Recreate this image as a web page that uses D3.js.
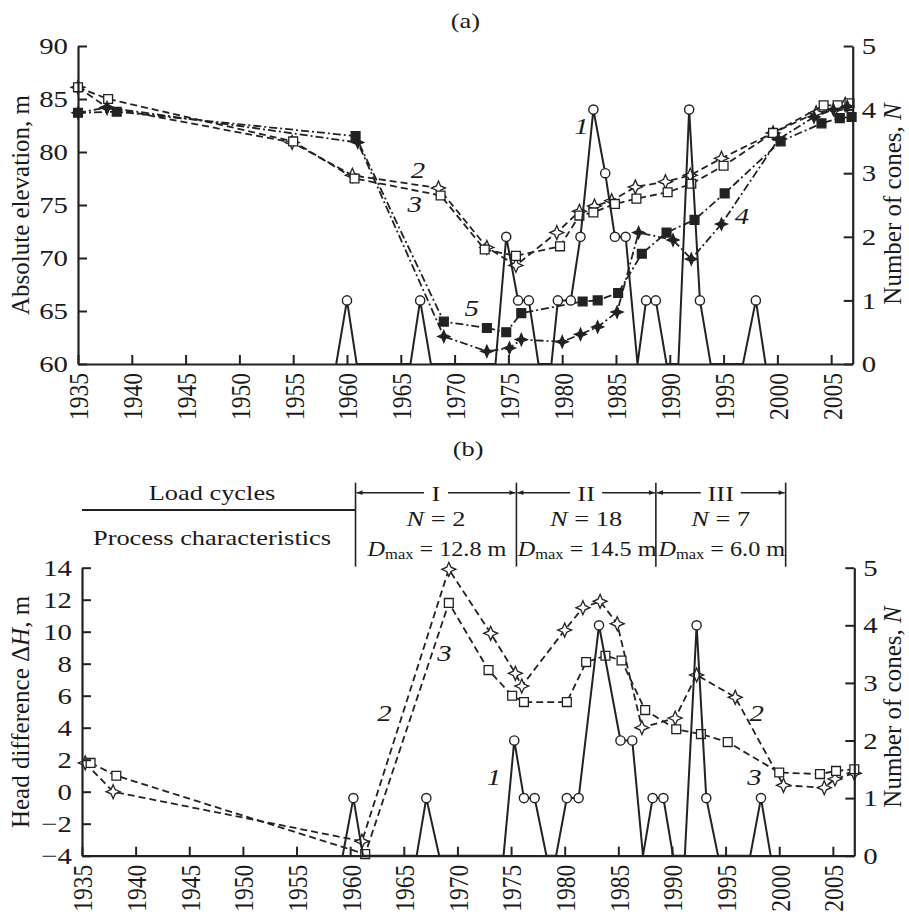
<!DOCTYPE html>
<html>
<head>
<meta charset="utf-8">
<script src="https://cdn.jsdelivr.net/npm/d3@7"></script>
<style>
  html, body { margin: 0; padding: 0; background: #fff; }
  svg text { font-family: "Liberation Serif", "Times New Roman", serif; fill: #1a1a1a; }
</style>
</head>
<body>
<svg id="chart" width="909" height="916"></svg>
<script>
// ---- data ----
const yearTicks = d3.range(1935, 2006, 5);

// (a) number of cones (curve 1)
const topConeYears = [1959.0, 1960.0, 1960.9, 1965.9, 1966.8, 1967.8, 1973.8, 1974.8, 1975.9, 1976.9, 1977.8, 1979.0, 1979.6, 1980.8, 1981.7, 1982.9, 1984.0, 1984.9, 1985.9, 1987.0, 1987.8, 1988.7, 1989.7, 1990.8, 1991.8, 1992.8, 1993.8, 1996.8, 1998.0, 1998.9];
const topConeN = [0, 1, 0, 0, 1, 0, 0, 2, 1, 1, 0, 0, 1, 1, 2, 4, 3, 2, 2, 0, 1, 1, 0, 0, 4, 1, 0, 0, 1, 0];
// (a) absolute elevation, curves 2..5
const topS2Years = [1935, 1937.7, 1954.9, 1960.5, 1968.5, 1973.0, 1975.7, 1979.5, 1981.6, 1983.0, 1984.6, 1986.8, 1989.6, 1991.9, 1994.8, 1999.6, 2003.6, 2005.35, 2006.3];
const topS2Elev = [86.1, 84.2, 80.9, 77.8, 76.6, 71.0, 69.3, 72.4, 74.4, 74.9, 75.4, 76.7, 77.2, 77.8, 79.4, 81.8, 83.7, 84.0, 84.5];
const topS3Years = [1935, 1937.8, 1955, 1960.7, 1968.7, 1972.8, 1975.7, 1979.8, 1981.6, 1982.9, 1984.9, 1986.9, 1989.8, 1992.0, 1995.0, 1999.6, 2004.3, 2005.6, 2006.7];
const topS3Elev = [86.1, 85.0, 81.0, 77.5, 75.9, 70.8, 70.2, 71.1, 74.0, 74.3, 75.1, 75.6, 76.2, 77.0, 78.7, 81.8, 84.4, 84.4, 84.6];
const topS4Years = [1935, 1937.7, 1961.0, 1969.0, 1973.0, 1975.1, 1976.2, 1980.0, 1981.7, 1983.3, 1985.1, 1987.1, 1990.3, 1992.0, 1994.8, 2000.1, 2003.4, 2005.2, 2006.5];
const topS4Elev = [83.7, 84.2, 80.9, 62.6, 61.2, 61.5, 62.3, 62.1, 62.8, 63.5, 64.9, 72.4, 71.7, 69.9, 73.2, 81.2, 83.3, 84.0, 84.3];
const topS5Years = [1935, 1938.6, 1960.8, 1969.0, 1973.0, 1974.8, 1976.2, 1981.9, 1983.3, 1985.2, 1987.4, 1989.7, 1992.3, 1995.1, 2000.3, 2004.1, 2005.8, 2006.9];
const topS5Elev = [83.7, 83.8, 81.5, 64.0, 63.4, 63.0, 64.8, 65.9, 66.0, 66.7, 70.4, 72.4, 73.6, 76.1, 81.0, 82.7, 83.2, 83.3];

// (b) number of cones (curve 1)
const botConeYears = [1959.3, 1960.3, 1961.2, 1966.2, 1967.1, 1968.3, 1974.3, 1975.3, 1976.2, 1977.2, 1978.3, 1979.2, 1980.2, 1981.3, 1983.2, 1985.2, 1986.3, 1987.3, 1988.2, 1989.2, 1990.1, 1991.2, 1992.3, 1993.2, 1994.3, 1997.3, 1998.3, 1999.2];
const botConeN = [0, 1, 0, 0, 1, 0, 0, 2, 1, 1, 0, 0, 1, 1, 4, 2, 2, 0, 1, 1, 0, 0, 4, 1, 0, 0, 1, 0];
// (b) head difference, curves 2 and 3
const botS2Years = [1935.3, 1937.9, 1961.1, 1969.2, 1973.1, 1975.4, 1976.0, 1980.0, 1981.7, 1983.3, 1984.9, 1987.2, 1990.3, 1992.3, 1995.9, 2000.4, 2004.2, 2005.2, 2007.0];
const botS2Head = [1.8, 0, -3.1, 13.9, 9.9, 7.4, 6.6, 10.1, 11.5, 11.9, 10.5, 4.0, 4.6, 7.3, 5.9, 0.4, 0.25, 0.8, 1.15];
const botS3Years = [1935.8, 1938.2, 1961.4, 1969.2, 1972.9, 1975.1, 1976.2, 1980.2, 1982.0, 1983.8, 1985.3, 1987.5, 1990.4, 1992.7, 1995.2, 2000.0, 2003.8, 2005.3, 2007.0];
const botS3Head = [1.8, 1.0, -3.9, 11.8, 7.6, 6.0, 5.6, 5.6, 8.1, 8.5, 8.2, 5.1, 3.9, 3.6, 3.1, 1.2, 1.1, 1.3, 1.4];

// load cycle table
const cycleBounds = [1960.5, 1975.5, 1988.5, 2000.6];
const cycleNames = ['I', 'II', 'III'];
const cycleN = [2, 18, 7];
const cycleDmax = ['12.8', '14.5', '6.0'];

// ---- drawing ----
const INK = '#222';
const SX = 1.2; // the source figure's lettering is stretched sideways
const svg = d3.select('#chart');

const zip = (xs, ys) => xs.map((x, i) => ({ x, y: ys[i] }));

// text inside a group so it can be stretched and rotated
const label = (parent, x, y, rot = 0, sx = SX) =>
  parent.append('g')
    .attr('transform', `translate(${x},${y}) scale(${sx},1) rotate(${rot})`)
    .append('text')
    .attr('text-anchor', 'middle')
    .attr('dominant-baseline', 'central');

// four pointed star
const starPath = (r) => {
  const i = r * 0.3;
  return `M0,${-r}L${i},${-i}L${r},0L${i},${i}L0,${r}L${-i},${i}L${-r},0L${-i},${-i}Z`;
};
const squarePath = d3.symbol(d3.symbolSquare, 78)();

const dashed = '7,4';
const dashDot = '8,3,2,3';

function drawSeries(g, pts, x, y, opts) {
  const line = d3.line().x(d => x(d.x)).y(d => y(d.y));
  g.append('path')
    .datum(pts)
    .attr('d', line)
    .attr('fill', 'none')
    .attr('stroke', INK)
    .attr('stroke-width', opts.width || 1.8)
    .attr('stroke-dasharray', opts.dash || null);

  const shown = opts.skipZero ? pts.filter(d => d.y > 0) : pts;
  const m = g.selectAll(null).data(shown).enter();
  if (opts.marker === 'circle') {
    m.append('circle')
      .attr('cx', d => x(d.x)).attr('cy', d => y(d.y)).attr('r', 4.6)
      .attr('fill', '#fff').attr('stroke', INK).attr('stroke-width', 1.4);
  } else {
    const d = opts.marker === 'square' ? squarePath : starPath(opts.filled ? 6 : 7);
    m.append('path')
      .attr('transform', p => `translate(${x(p.x)},${y(p.y)})`)
      .attr('d', d)
      .attr('fill', opts.filled ? INK : '#fff')
      .attr('stroke', INK)
      .attr('stroke-width', 1.3);
  }
}

function styleAxis(g) {
  g.selectAll('path.domain').attr('stroke', INK).attr('stroke-width', 2.2);
  g.selectAll('.tick line').attr('stroke', INK).attr('stroke-width', 2);
  g.selectAll('text').attr('fill', '#1a1a1a').attr('font-family', '"Liberation Serif", serif');
}

function drawFrame(x, yL, yR, leftTicks, opts) {
  const [x0, x1] = x.range();
  const yBottom = yL.range()[0];

  const gx = svg.append('g').attr('transform', `translate(0,${yBottom})`)
    .call(d3.axisBottom(x).tickValues(yearTicks).tickFormat(d3.format('d'))
      .tickSizeInner(-9).tickSizeOuter(0));
  styleAxis(gx);
  gx.selectAll('.tick text')
    .attr('font-size', 23.5)
    .attr('x', 0).attr('y', 0).attr('dy', '0.35em')
    .attr('text-anchor', 'end')
    .attr('transform', `translate(0,9) scale(${SX},1) rotate(-90)`);

  const gl = svg.append('g').attr('transform', `translate(${x0},0)`)
    .call(d3.axisLeft(yL).tickValues(leftTicks).tickSizeInner(-9).tickSizeOuter(0));
  styleAxis(gl);
  gl.selectAll('.tick text')
    .attr('font-size', 24)
    .attr('x', -opts.leftPad / SX)
    .attr('transform', `scale(${SX},1)`);

  const gr = svg.append('g').attr('transform', `translate(${x1},0)`)
    .call(d3.axisRight(yR).ticks(5).tickSizeInner(-9).tickSizeOuter(0));
  styleAxis(gr);
  gr.selectAll('.tick text')
    .attr('font-size', 24)
    .attr('x', 9 / SX)
    .attr('transform', `scale(${SX},1)`);
}

function yTitle(x, y, parts) {
  const t = label(svg, x, y, -90, 1).attr('font-size', 25);
  parts.forEach(p => t.append('tspan').attr('font-style', p.italic ? 'italic' : null).text(p.s));
}

function curveTags(g, tags, x, y) {
  tags.forEach(t => {
    label(g, x(t.year), y(t.v)).attr('font-size', 24).attr('font-style', 'italic').text(t.s);
  });
}

// ===== (a) =====
const xA = d3.scaleLinear().domain([1935, 2007]).range([78, 852.7]);
const yAL = d3.scaleLinear().domain([60, 90]).range([364, 46]);
const yAR = d3.scaleLinear().domain([0, 5]).range([364, 46]);

label(svg, (78 + 852.7) / 2, 20).attr('font-size', 22).text('(a)');

const gA = svg.append('g');
drawSeries(gA, zip(topS2Years, topS2Elev), xA, yAL, { dash: dashed, marker: 'star' });
drawSeries(gA, zip(topS3Years, topS3Elev), xA, yAL, { dash: dashed, marker: 'square' });
drawSeries(gA, zip(topS4Years, topS4Elev), xA, yAL, { dash: dashDot, marker: 'star', filled: true });
drawSeries(gA, zip(topS5Years, topS5Elev), xA, yAL, { dash: dashDot, marker: 'square', filled: true });
drawSeries(gA, zip(topConeYears, topConeN), xA, yAR, { marker: 'circle', skipZero: true, width: 2 });

drawFrame(xA, yAL, yAR, d3.range(60, 91, 5), { leftPad: 10 });
yTitle(20, 205, [{ s: 'Absolute elevation, m' }]);
yTitle(892, 204, [{ s: 'Number of cones, ' }, { s: 'N', italic: true }]);

curveTags(gA, [
  { s: '1', year: 1981.8, v: 82.5 },
  { s: '2', year: 1966.6, v: 78.3 },
  { s: '3', year: 1966.3, v: 75.1 },
  { s: '4', year: 1996.7, v: 74.0 },
  { s: '5', year: 1971.6, v: 65.3 }
], xA, yAL);

// ===== (b) =====
const xB = d3.scaleLinear().domain([1935, 2007]).range([82, 854.3]);
const yBL = d3.scaleLinear().domain([-4, 14]).range([855.7, 567.7]);
const yBR = d3.scaleLinear().domain([0, 5]).range([855.7, 567.7]);

label(svg, (82 + 854.3) / 2, 448).attr('font-size', 22).text('(b)');

// table of load cycles above the plot
const gT = svg.append('g').attr('stroke', INK);
const defs = svg.append('defs');
defs.append('marker')
  .attr('id', 'arrow')
  .attr('viewBox', '0 -5 10 10')
  .attr('refX', 10).attr('refY', 0)
  .attr('markerWidth', 9).attr('markerHeight', 6)
  .attr('markerUnits', 'userSpaceOnUse')
  .attr('orient', 'auto')
  .append('path').attr('d', 'M0,-4L10,0L0,4Z').attr('fill', INK).attr('stroke', 'none');

const tabTop = 482.7, tabBottom = 566.7, arrowY = 492.7;
gT.append('line')
  .attr('x1', xB.range()[0]).attr('x2', xB(cycleBounds[0]))
  .attr('y1', 510).attr('y2', 510).attr('stroke-width', 2);
cycleBounds.forEach(b => {
  gT.append('line')
    .attr('x1', xB(b)).attr('x2', xB(b))
    .attr('y1', tabTop).attr('y2', tabBottom).attr('stroke-width', 1.6);
});
label(svg, 212, 492).attr('font-size', 22).text('Load cycles');
label(svg, 212, 537).attr('font-size', 22).text('Process characteristics');

cycleNames.forEach((name, i) => {
  const a = xB(cycleBounds[i]), b = xB(cycleBounds[i + 1]);
  const c = (a + b) / 2;
  const half = 8 + name.length * 4;
  gT.append('line').attr('x1', c - half).attr('x2', a + 1)
    .attr('y1', arrowY).attr('y2', arrowY).attr('stroke-width', 1.6)
    .attr('marker-end', 'url(#arrow)');
  gT.append('line').attr('x1', c + half).attr('x2', b - 1)
    .attr('y1', arrowY).attr('y2', arrowY).attr('stroke-width', 1.6)
    .attr('marker-end', 'url(#arrow)');
  label(svg, c, arrowY + 1).attr('font-size', 22).text(name);

  const tn = label(svg, c, 518).attr('font-size', 22);
  tn.append('tspan').attr('font-style', 'italic').text('N');
  tn.append('tspan').text(' = ' + cycleN[i]);

  const td = label(svg, c + 1, 548, 0, 1.1).attr('font-size', 22);
  td.append('tspan').attr('font-style', 'italic').text('D');
  td.append('tspan').attr('font-size', 15).attr('dy', 5).text('max');
  td.append('tspan').attr('dy', -5).text(' = ' + cycleDmax[i] + ' m');
});

const gB = svg.append('g');
drawSeries(gB, zip(botS2Years, botS2Head), xB, yBL, { dash: dashed, marker: 'star' });
drawSeries(gB, zip(botS3Years, botS3Head), xB, yBL, { dash: dashed, marker: 'square' });
drawSeries(gB, zip(botConeYears, botConeN), xB, yBR, { marker: 'circle', skipZero: true, width: 2 });

drawFrame(xB, yBL, yBR, d3.range(-4, 15, 2), { leftPad: 10 });
yTitle(20, 712, [{ s: 'Head difference Δ' }, { s: 'H', italic: true }, { s: ', m' }]);
yTitle(892, 707, [{ s: 'Number of cones, ' }, { s: 'N', italic: true }]);

curveTags(gB, [
  { s: '2', year: 1963.2, v: 4.9 },
  { s: '3', year: 1968.8, v: 8.7 },
  { s: '1', year: 1973.4, v: 0.9 },
  { s: '2', year: 1997.9, v: 4.9 },
  { s: '3', year: 1997.7, v: 0.9 }
], xB, yBL);
</script>
</body>
</html>
